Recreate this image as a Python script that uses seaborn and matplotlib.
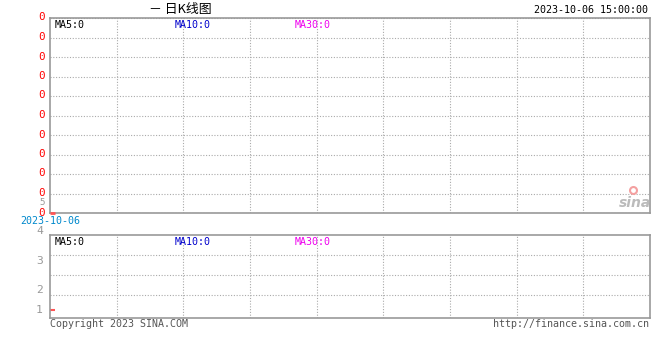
import matplotlib
matplotlib.use("Agg")
import matplotlib.pyplot as plt
import matplotlib.transforms as mtransforms
import seaborn as sns
import pandas as pd

# ---- data ---------------------------------------------------------------
dates = ["2023-10-06"]
close = [0]
volume = [1]
ma_names = ["MA5", "MA10", "MA30"]
ma_values = [0, 0, 0]
ma_colors = ["#000000", "#0000cc", "#ee00ee"]
price_tick_labels = ["0"] * 11
vol_tick_labels = ["4", "3", "2", "1"]
title = "－ 日K线图"
stamp = "2023-10-06 15:00:00"

# ---- style ----------------------------------------------------------------
sns.set_style("white")
plt.rcParams["font.family"] = ["DejaVu Sans Mono", "Noto Sans CJK SC"]
GRID = "#aaaaaa"
FRAME = "#999999"
FS = 7.2

W, H = 660, 360
fig = plt.figure(figsize=(W / 100, H / 100), dpi=100)


def px_axes(x0, y0, x1, y1):
    return fig.add_axes([x0 / W, 1 - y1 / H, (x1 - x0) / W, (y1 - y0) / H])


def frame(ax):
    for s in ax.spines.values():
        s.set_color(FRAME)
        s.set_linewidth(1.2)
    ax.set_xlim(0, 9)
    ax.set_xticks(range(1, 9))
    ax.tick_params(axis="x", length=0, labelbottom=False)
    ax.grid(True, axis="x", color=GRID, linestyle=(0, (1, 1.5)), linewidth=0.8)
    ax.set_xlabel("")
    ax.set_ylabel("")


# ---- price panel ----------------------------------------------------------
ax1 = px_axes(50, 18, 650, 213)
frame(ax1)
ax1.set_ylim(0, 10)
ax1.set_yticks(range(11))
ax1.set_yticklabels(price_tick_labels, color="#ff0000", fontsize=7.8)
ax1.tick_params(axis="y", length=0, pad=3.5)
off = mtransforms.ScaledTranslation(0, 1.5 / 100, fig.dpi_scale_trans)
for lbl in ax1.get_yticklabels():
    lbl.set_transform(lbl.get_transform() + off)
ax1.grid(True, axis="y", color=GRID, linestyle=(0, (1, 1.5)), linewidth=0.8)
ax1.text(-0.008, 0.056, "5", transform=ax1.transAxes, color="#999999",
         fontsize=6.6, ha="right", va="center")

df = pd.DataFrame({"date": range(len(dates)), "close": close})
sns.lineplot(data=df, x="date", y="close", ax=ax1, color="#ff0000")
ax1.hlines(df["close"], df["date"], df["date"] + 0.08, color="#ff5555", lw=2,
           clip_on=False, zorder=5)
ax1.set_xlim(0, 9)
ax1.set_xlabel("")
ax1.set_ylabel("")

for (name, val, col), xa in zip(zip(ma_names, ma_values, ma_colors), [0.008, 0.208, 0.408]):
    ax1.text(xa, 0.992, f"{name}:{val}", transform=ax1.transAxes, color=col,
             fontsize=FS, ha="left", va="top")

# ---- volume panel ---------------------------------------------------------
ax2 = px_axes(50, 235, 650, 318)
frame(ax2)
ax2.set_ylim(0.6, 4.75)
ax2.set_yticks([])
ax2.set_yticks([1.75, 2.75, 3.75], minor=True)
ax2.tick_params(axis="y", which="both", length=0)
ax2.grid(True, axis="y", which="minor", color=GRID, linestyle=(0, (1, 1.5)), linewidth=0.8)
vol_label_pos = [4.93, 3.475, 2.0, 1.0]
for lab, yv in zip(vol_tick_labels, vol_label_pos):
    ax2.text(-0.012, yv, lab, transform=ax2.get_yaxis_transform(), color="#999999",
             fontsize=FS + 1, ha="right", va="center", clip_on=False)
dv = pd.DataFrame({"date": range(len(dates)), "volume": volume})
ax2.hlines(dv["volume"], dv["date"], dv["date"] + 0.08, color="#ff5555", lw=1.5)
for (name, val, col), xa in zip(zip(ma_names, ma_values, ma_colors), [0.008, 0.208, 0.408]):
    ax2.text(xa, 0.98, f"{name}:{val}", transform=ax2.transAxes, color=col,
             fontsize=FS, ha="left", va="top")

# ---- header / footer text -------------------------------------------------
fig.text(180 / W, 1 - 9 / H, title, family=["Noto Sans CJK SC", "DejaVu Sans"],
         fontsize=9.3, ha="center", va="center", color="#000000")
fig.text(648 / W, 1 - 10 / H, stamp, fontsize=FS, ha="right", va="center", color="#000000")
fig.text(20 / W, 1 - 221 / H, dates[-1], fontsize=FS, ha="left", va="center", color="#0088cc")
fig.text(50 / W, 1 - 324 / H, "Copyright 2023 SINA.COM", fontsize=FS, ha="left",
         va="center", color="#555555")
fig.text(649 / W, 1 - 324 / H, "http://finance.sina.com.cn", fontsize=FS, ha="right",
         va="center", color="#555555")

# sina watermark
fig.text(651 / W, 1 - 203 / H, "sina", fontsize=10, style="italic", weight="bold",
         family="DejaVu Sans", ha="right", va="center", color="#bbbbbb")
fig.add_artist(plt.Line2D([633 / W], [1 - 190 / H], marker="o", markersize=5,
                          markerfacecolor="none", markeredgecolor="#f4a0a0",
                          markeredgewidth=1.5, transform=fig.transFigure))

fig.savefig("out.png", dpi=100)
